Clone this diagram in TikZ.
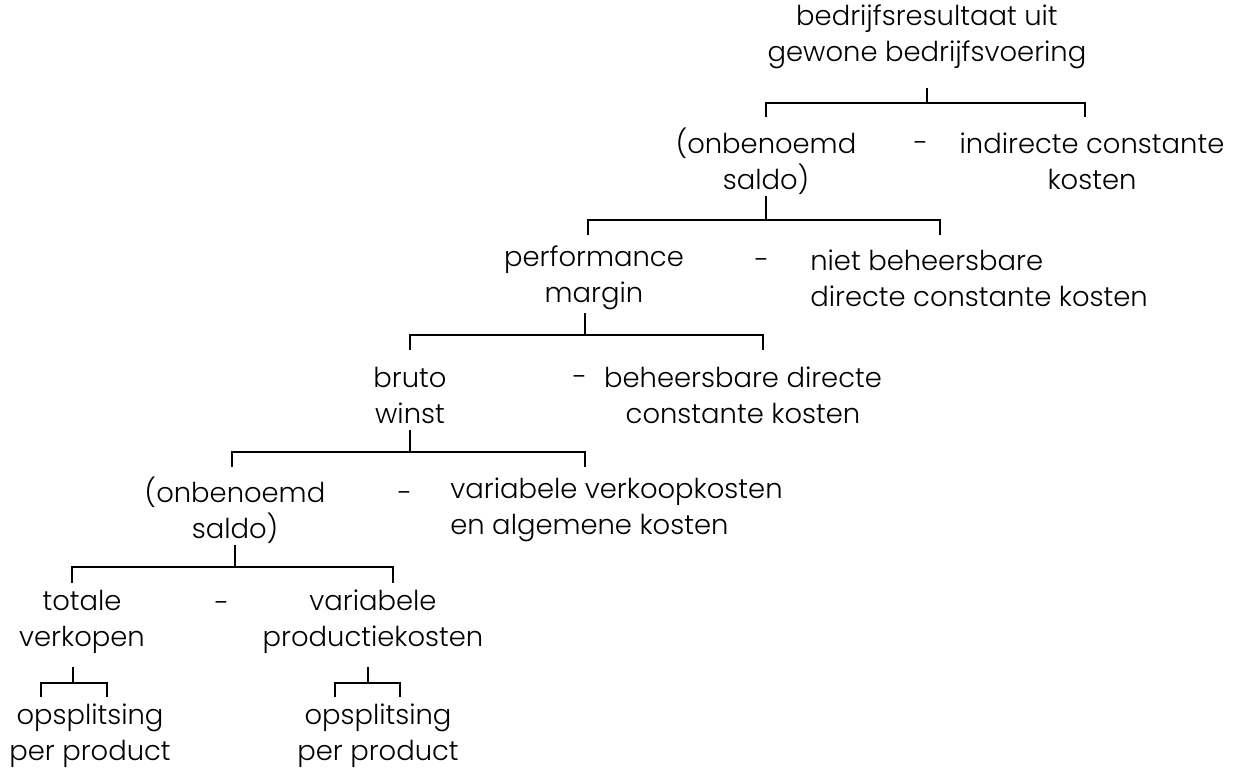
\documentclass[tikz,border=0pt]{standalone}
\usepackage{fontspec}
\setmainfont{Poppins}[UprightFont=* Light]
\usetikzlibrary{positioning}
\tikzset{every node/.style={font=\fontsize{15.6}{20.5}\selectfont, align=center, inner sep=0pt}}

\begin{document}
\begin{tikzpicture}[
        x=0.02cm, y=-0.02cm,
        tree/.style={line width=1pt},
        minus/.style={anchor=base},
      ]
        \useasboundingbox (0,0) rectangle (1255,769);
        % levels, top to bottom
        \node (top) at (927,37) {bedrijfsresultaat uit\\gewone bedrijfsvoering};
        \node (sa1) at (766,161) {(onbenoemd\\saldo)};
        \node[minus] (min1) at (921,152) {-};
        \node (ic) at (1092,161) {indirecte constante\\kosten};
        \node (pm) at (594,278) {performance\\margin};
        \node[minus] (min2) at (762,269) {-};
        \node[anchor=west, align=left] (nb) at (810,278) {niet beheersbare\\ directe constante kosten};
        \node (bw) at (410,395) {bruto\\winst};
        \node[minus] (min3) at (580,386) {-};
        \node (bd) at (743,395) {beheersbare directe\\constante kosten};
        \node (sa2) at (235,510) {(onbenoemd\\saldo)};
        \node[minus] (min4) at (405,502) {-};
        \node[anchor=west, align=left] (vv) at (450,510) {variabele verkoopkosten\\en algemene kosten};
        \node (tv) at (82,622) {totale\\verkopen};
        \node[minus] (min5) at (222,612) {-};
        \node (vp) at (373,622) {variabele\\productiekosten};
        \node (os1) at (90,736) {opsplitsing\\per product};
        \node (os2) at (378,736) {opsplitsing\\per product};
        % brackets
        \coordinate (u0) at (927,88);  \coordinate (c0) at (927,103);
        \coordinate (l0) at (766,117); \coordinate (r0) at (1085,117);
        \coordinate (u1) at (766,196); \coordinate (c1) at (766,220);
        \coordinate (l1) at (588,235); \coordinate (r1) at (940,235);
        \coordinate (u2) at (585,313); \coordinate (c2) at (585,335);
        \coordinate (l2) at (410,350); \coordinate (r2) at (763,350);
        \coordinate (u3) at (410,430); \coordinate (c3) at (410,452);
        \coordinate (l3) at (232,467); \coordinate (r3) at (585,467);
        \coordinate (u4) at (235,545); \coordinate (c4) at (235,567);
        \coordinate (l4) at (72,583);  \coordinate (r4) at (393,583);
        \coordinate (u5) at (73,667);  \coordinate (c5) at (73,683);
        \coordinate (l5) at (41,697);  \coordinate (r5) at (107,697);
        \coordinate (u6) at (368,667); \coordinate (c6) at (368,683);
        \coordinate (l6) at (335,697); \coordinate (r6) at (400,697);
        \foreach \i in {0,...,6} {
          \draw[tree] (u\i) -- (c\i);
          \draw[tree] (l\i) |- (c\i) -| (r\i);
        }
      \end{tikzpicture}
\end{document}
